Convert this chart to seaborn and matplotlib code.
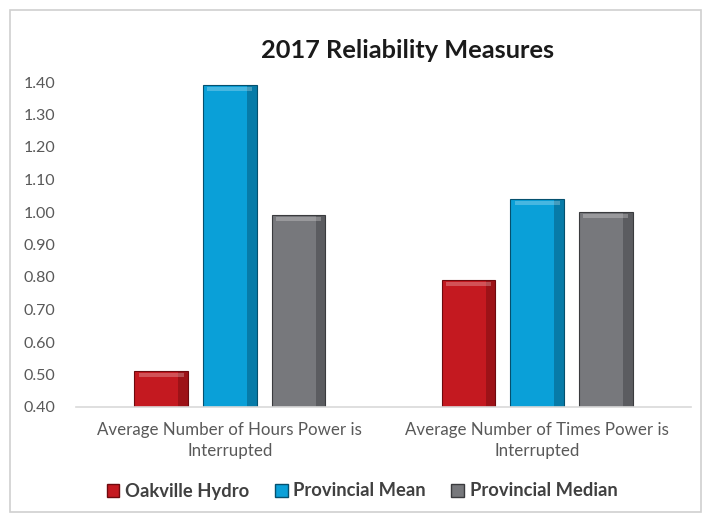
import matplotlib
matplotlib.use("Agg")
import matplotlib.pyplot as plt
import seaborn as sns
import pandas as pd
from matplotlib.patches import Rectangle

categories = ["Average Number of Hours Power is\nInterrupted",
              "Average Number of Times Power is\nInterrupted"]
series_names = ["Oakville Hydro", "Provincial Mean", "Provincial Median"]
oakville = [0.51, 0.79]
prov_mean = [1.39, 1.04]
prov_median = [0.99, 1.00]
yticks = [0.40, 0.50, 0.60, 0.70, 0.80, 0.90, 1.00, 1.10, 1.20, 1.30, 1.40]

rows = []
for name, vals in zip(series_names, [oakville, prov_mean, prov_median]):
    for c, v in zip(categories, vals):
        rows.append({"category": c, "series": name, "value": v})
df = pd.DataFrame(rows)

colors = ["#C41920", "#0AA0D8", "#77787C"]
edges = ["#6E0A0E", "#05506E", "#3A3B3E"]

sns.set_style("white")
plt.rcParams['font.family'] = ['Lato', 'DejaVu Sans']

fig = plt.figure(figsize=(7.02, 5.14), dpi=100)
ax = fig.add_axes([76/702, 1 - 407/514, (691-76)/702, (407-82)/514])

sns.barplot(data=df, x="category", y="value", hue="series", palette=colors,
            width=0.67, gap=0.22, ax=ax, legend=False, saturation=1)

ax.set_ylim(0.40, 1.40)
ax.set_xlim(-0.5, 1.5)
ax.set_yticks(yticks)
ax.set_yticklabels([f"{t:.2f}" for t in yticks], color="#595959", fontsize=11.5)
ax.tick_params(axis="y", length=0, pad=15)
ax.tick_params(axis="x", length=0, pad=11)
ax.set_xticks([0, 1])
ax.set_xticklabels(categories, color="#595959", fontsize=12.2, linespacing=1.4)
ax.set_xlabel("")
ax.set_ylabel("")
for s in ["top", "right", "left"]:
    ax.spines[s].set_visible(False)
ax.spines["bottom"].set_color("#D9D9D9")
ax.spines["bottom"].set_linewidth(1.2)

# bevel shading derived from bar patches
for i, cont in enumerate(ax.containers):
    for p in cont.patches:
        p.set_edgecolor(edges[i])
        p.set_linewidth(0.8)
        x0, y0 = p.get_x(), p.get_y()
        w, h = p.get_width(), p.get_height()
        ax.add_patch(Rectangle((x0 + w*0.82, y0), w*0.18, h, facecolor=edges[i],
                               alpha=0.45, linewidth=0, zorder=p.get_zorder()+0.1))
        ax.add_patch(Rectangle((x0 + w*0.08, y0 + h - 0.018), w*0.84, 0.012,
                               facecolor="white", alpha=0.25, linewidth=0,
                               zorder=p.get_zorder()+0.1))

fig.text(408/702, 1 - 50/514, "2017 Reliability Measures", ha="center", va="center",
         fontsize=18.3, fontweight="bold", color="#1a1a1a")

handles = [Rectangle((0, 0), 1, 1, facecolor=c, edgecolor=e) for c, e in zip(colors, edges)]
fig.legend(handles, series_names, loc="center", bbox_to_anchor=(362/702, 1 - 491/514),
           ncol=3, frameon=False,
           prop={"weight": "bold", "size": 13.2}, handlelength=0.7, handleheight=0.7,
           handletextpad=0.3, columnspacing=1.4, labelcolor="#404040")

fig.add_artist(Rectangle((10/702, 2/514), 691/702, 502/514, transform=fig.transFigure,
                         fill=False, edgecolor="#D0D0D0", linewidth=1.2))

fig.savefig("out.png", dpi=100)
